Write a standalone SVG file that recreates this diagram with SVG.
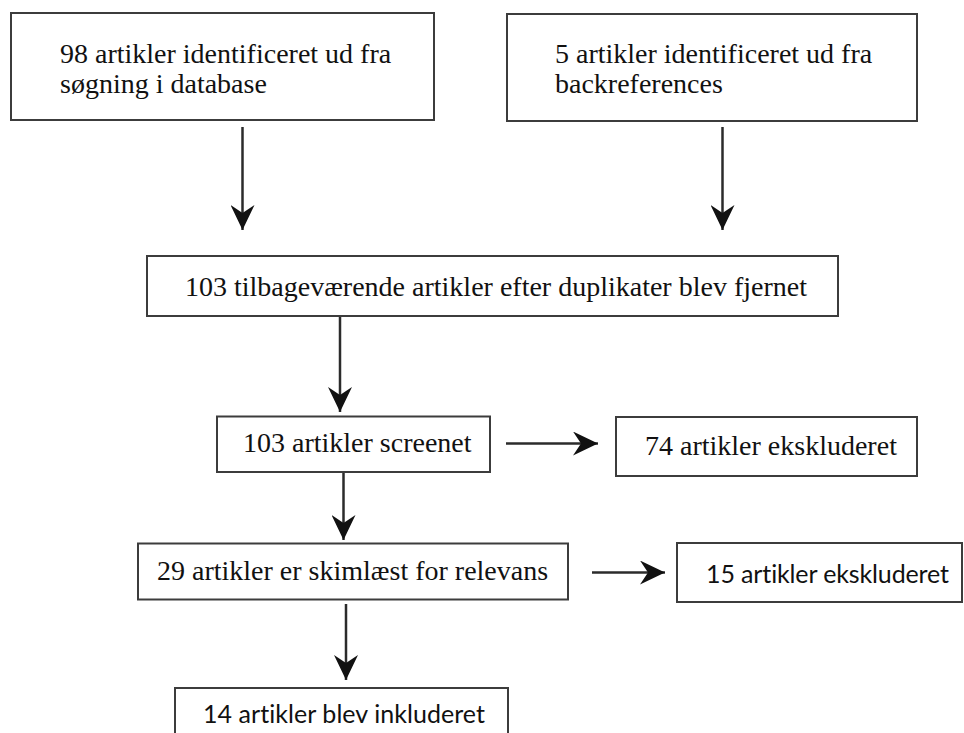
<svg xmlns="http://www.w3.org/2000/svg" width="964" height="733" viewBox="0 0 964 733">
  <style>
    .box { fill: #ffffff; stroke: #3c3c3c; stroke-width: 2; }
    .serif { font-family: "Liberation Serif", "Times New Roman", serif; font-size: 28px; fill: #111111; }
    .sans { font-family: "Lato", "Open Sans", "Liberation Sans", sans-serif; font-size: 25px; fill: #111111; font-variant-ligatures: none; }
    .link { stroke: #2b2b2b; stroke-width: 2.5; fill: none; marker-end: url(#head); }
  </style>
  <defs>
    <!-- barbed arrowhead, tip at the end of the line -->
    <marker id="head" viewBox="0 -12 25 24" refX="25" refY="0" markerWidth="25" markerHeight="24" markerUnits="userSpaceOnUse" orient="auto">
      <path d="M0,-12 L25,0 L0,12 L8,0 Z" fill="#111111"/>
    </marker>
  </defs>
  <rect x="0" y="0" width="964" height="733" fill="#ffffff"/>

  <g id="connectors">
    <line class="link" x1="242.5" y1="127" x2="242.5" y2="230"/>
    <line class="link" x1="722.5" y1="127" x2="722.5" y2="230"/>
    <line class="link" x1="340" y1="317" x2="340" y2="412"/>
    <line class="link" x1="506" y1="443.5" x2="598" y2="443.5"/>
    <line class="link" x1="343.5" y1="473" x2="343.5" y2="540"/>
    <line class="link" x1="592" y1="572.5" x2="665" y2="572.5"/>
    <line class="link" x1="346" y1="604" x2="346" y2="680"/>
  </g>

  <g id="database-search">
    <rect class="box" x="11" y="13" width="423" height="107"/>
    <text class="serif" x="60" y="63">98 artikler identificeret ud fra</text>
    <text class="serif" x="60" y="93">søgning i database</text>
  </g>

  <g id="backreferences">
    <rect class="box" x="507" y="14" width="410" height="107"/>
    <text class="serif" x="555" y="63">5 artikler identificeret ud fra</text>
    <text class="serif" x="555" y="93">backreferences</text>
  </g>

  <g id="deduplicated">
    <rect class="box" x="147" y="256" width="691" height="60"/>
    <text class="serif" x="185" y="296">103 tilbageværende artikler efter duplikater blev fjernet</text>
  </g>

  <g id="screened">
    <rect class="box" x="217" y="416.5" width="273" height="55.5"/>
    <text class="serif" x="243" y="452">103 artikler screenet</text>
  </g>

  <g id="excluded-74">
    <rect class="box" x="616" y="417" width="301" height="59"/>
    <text class="serif" x="645" y="455">74 artikler ekskluderet</text>
  </g>

  <g id="skimmed">
    <rect class="box" x="138" y="543.5" width="430" height="56"/>
    <text class="serif" x="157" y="580">29 artikler er skimlæst for relevans</text>
  </g>

  <g id="excluded-15">
    <rect class="box" x="677" y="543" width="285" height="59"/>
    <text class="sans" x="706" y="583" textLength="243">15 artikler ekskluderet</text>
  </g>

  <g id="included">
    <rect class="box" x="175" y="688" width="333" height="60"/>
    <text class="sans" x="203" y="723" textLength="282">14 artikler blev inkluderet</text>
  </g>
</svg>
